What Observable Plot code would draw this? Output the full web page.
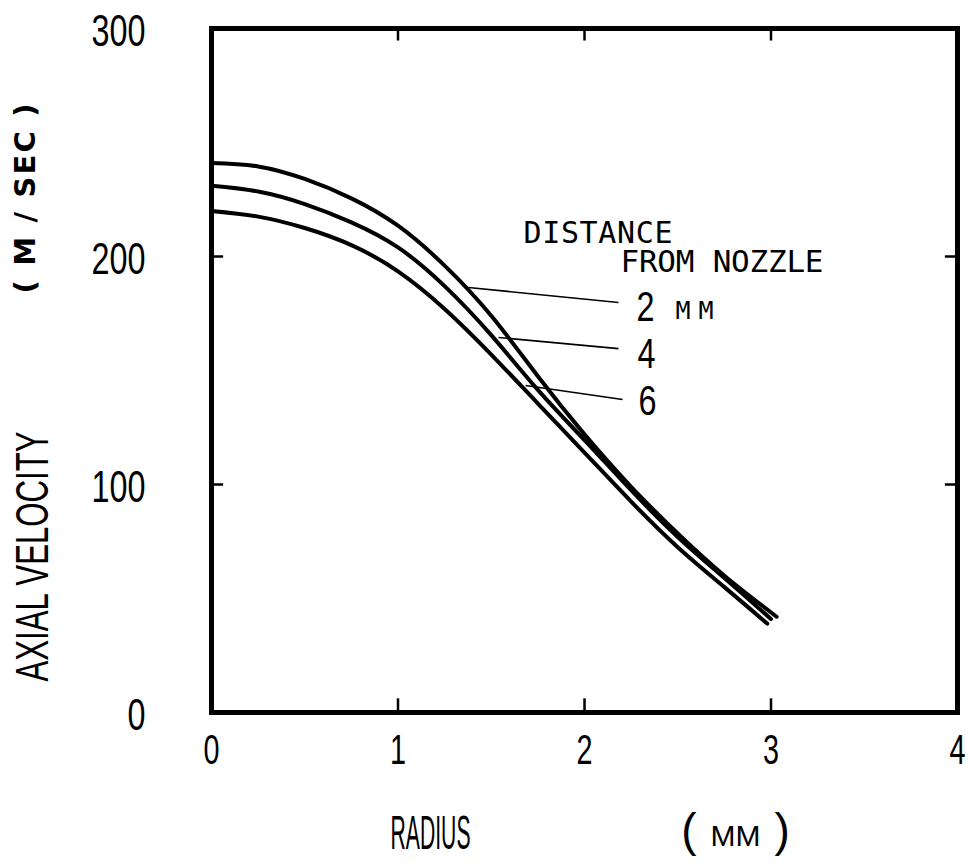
<!DOCTYPE html>
<html><head><meta charset="utf-8">
<script src="https://cdn.jsdelivr.net/npm/d3@7"></script>
<script src="https://cdn.jsdelivr.net/npm/@observablehq/plot@0.6"></script>
<style>body{margin:0;background:#fff} svg{display:block;background:#fff}</style>
</head><body><div id="chart"></div>
<script>
// ---- data ----
const seriesNames = ["2", "4", "6"];
const radius2 = [0, 0.25, 0.5, 0.75, 1, 1.25, 1.5, 1.75, 2, 2.25, 2.5, 2.75, 3.03];
const velocity2 = [241, 239.5, 234, 225.5, 213.5, 196, 174, 147.5, 122, 99, 78.5, 60, 42];
const radius4 = [0, 0.25, 0.5, 0.75, 1, 1.25, 1.5, 1.75, 2, 2.25, 2.5, 2.75, 3.0];
const velocity4 = [231, 228.5, 223, 215, 204, 187, 165.5, 141.5, 119.5, 97.5, 77, 59, 41];
const radius6 = [0, 0.25, 0.5, 0.75, 1, 1.25, 1.5, 1.75, 2, 2.25, 2.5, 2.75, 2.98];
const velocity6 = [220, 217.5, 212.5, 205, 193.5, 177, 157, 135.5, 114, 92.5, 72.5, 55, 39];

const xTicks = [1, 2, 3];
const yTicks = [100, 200];
const xTickLabels = [0, 1, 2, 3, 4];
const yTickLabels = [0, 100, 200, 300];

// legend leader lines (data units)
const leaderR1 = [1.378, 1.539, 1.684];
const leaderV1 = [186.4, 164.5, 143.4];
const leaderR2 = [2.182, 2.182, 2.204];
const leaderV2 = [179.8, 159.6, 137.3];
const labelR = [2.327, 2.332, 2.338];
const labelV = [171.9, 150.9, 130.3];

const legendTitle1 = "DISTANCE";
const legendTitle2 = "FROM NOZZLE";
const unitText = "MM";
const xTitle = "RADIUS";
const xUnit = "( MM )";
const yTitle = "AXIAL VELOCITY";
const yUnit = "( M / SEC )";

// ---- build tables ----
const radii = [radius2, radius4, radius6];
const vels = [velocity2, velocity4, velocity6];
const rows = seriesNames.flatMap((s, i) => radii[i].map((r, j) => ({series: s, r, v: vels[i][j]})));
const leaders = seriesNames.map((s, i) => ({s, x1: leaderR1[i], y1: leaderV1[i], x2: leaderR2[i], y2: leaderV2[i], lx: labelR[i], ly: labelV[i]}));

const cond = "'Liberation Sans Narrow','Liberation Sans',Arial,sans-serif";
const mono = "'DejaVu Sans Mono','Liberation Mono',monospace";

const chart = Plot.plot({
  width: 971,
  height: 867,
  marginLeft: 211,
  marginRight: 14,
  marginTop: 28,
  marginBottom: 155,
  style: {background: "#fff", color: "#000"},
  x: {domain: [0, 4], axis: null},
  y: {domain: [0, 300], axis: null},
  marks: [
    Plot.frame({stroke: "#000", strokeWidth: 5}),
    // inward ticks
    Plot.ruleX(xTicks, {x: d => d, y1: 0, y2: 6, stroke: "#000", strokeWidth: 2.5}),
    Plot.ruleX(xTicks, {x: d => d, y1: 294.5, y2: 300, stroke: "#000", strokeWidth: 2.5}),
    Plot.ruleY(yTicks, {y: d => d, x1: 0, x2: 0.065, stroke: "#000", strokeWidth: 2.5}),
    Plot.ruleY(yTicks, {y: d => d, x1: 3.935, x2: 4, stroke: "#000", strokeWidth: 2.5}),
    // curves
    Plot.line(rows, {x: "r", y: "v", z: "series", curve: "natural", stroke: "#000", strokeWidth: 4, strokeLinecap: "round"}),
    // leader lines
    Plot.link(leaders, {x1: "x1", y1: "y1", x2: "x2", y2: "y2", stroke: "#000", strokeWidth: 1.6}),
    Plot.text(leaders, {x: "lx", y: "ly", text: "s", className: "cond-num", fontFamily: cond, fontSize: 42, lineAnchor: "bottom", textAnchor: "middle", fill: "#000"}),
    Plot.text([unitText], {x: 2.488, y: 172.8, text: d => d, className: "mono-unit", fontFamily: mono, fontSize: 25, lineAnchor: "bottom", textAnchor: "start", fill: "#000"}),
    Plot.text([legendTitle1], {x: 1.673, y: 206.1, text: d => d, className: "mono-t1", fontFamily: mono, fontSize: 30, lineAnchor: "bottom", textAnchor: "start", fill: "#000"}),
    Plot.text([legendTitle2], {x: 2.193, y: 193.4, text: d => d, className: "mono-t2", fontFamily: mono, fontSize: 31, lineAnchor: "bottom", textAnchor: "start", fill: "#000"}),
    // tick labels
    Plot.text(xTickLabels, {x: d => d, frameAnchor: "bottom", dy: 38, text: d => String(d), className: "cond-xnum", fontFamily: cond, fontSize: 43, lineAnchor: "middle", textAnchor: "middle", fill: "#000"}),
    Plot.text(yTickLabels, {y: d => d, frameAnchor: "left", dx: -66, dy: 3, text: d => String(d), className: "cond-num", fontFamily: cond, fontSize: 45, lineAnchor: "middle", textAnchor: "end", fill: "#000"}),
    // axis titles
    Plot.text([xTitle], {frameAnchor: "bottom-left", dx: 219, dy: 121, text: d => d, className: "cond-title", fontFamily: cond, fontSize: 49, lineAnchor: "middle", textAnchor: "middle", fill: "#000"}),
    Plot.text([xUnit], {frameAnchor: "bottom-left", dx: 524, dy: 119, text: d => d, className: "cond-unit", fontFamily: cond, fontSize: 46, lineAnchor: "middle", textAnchor: "middle", fill: "#000"}),
    Plot.text([yTitle], {frameAnchor: "top-left", dx: -179, dy: 528, rotate: -90, text: d => d, className: "cond-ytitle", fontFamily: cond, fontSize: 47, lineAnchor: "middle", textAnchor: "middle", fill: "#000"}),
    Plot.text([yUnit], {frameAnchor: "top-left", dx: -186, dy: 170, rotate: -90, text: d => d, className: "sans-yunit", fontFamily: "'DejaVu Sans',sans-serif", fontWeight: "bold", fontSize: 29, lineAnchor: "middle", textAnchor: "middle", fill: "#000"})
  ]
});

const svg = d3.select(chart);
// condensed typewriter-style digits: squeeze glyphs to the reference widths
svg.selectAll("g.cond-num text").each(function() {
  const n = this.textContent.length;
  d3.select(this).attr("textLength", n * 18).attr("lengthAdjust", "spacingAndGlyphs");
});
svg.selectAll("g.cond-xnum text").attr("textLength", 16).attr("lengthAdjust", "spacingAndGlyphs");
svg.selectAll("g.cond-title text").attr("textLength", 80).attr("lengthAdjust", "spacingAndGlyphs");
svg.selectAll("g.cond-ytitle text").attr("textLength", 250).attr("lengthAdjust", "spacingAndGlyphs");
svg.selectAll("g.sans-yunit text").attr("textLength", 190).attr("lengthAdjust", "spacing");
svg.selectAll("g.mono-t1 text").attr("textLength", 149).attr("lengthAdjust", "spacing");
svg.selectAll("g.mono-t2 text").attr("textLength", 203).attr("lengthAdjust", "spacing");
svg.selectAll("g.mono-unit text").attr("textLength", 38).attr("lengthAdjust", "spacing");
// "( MM )": tall parentheses, smaller letters
svg.selectAll("g.cond-unit text").each(function() {
  const t = d3.select(this);
  const txt = this.textContent;        // "( MM )"
  const inner = txt.slice(1, -1).trim();
  t.text(null);
  t.append("tspan").text(txt[0]);
  t.append("tspan").attr("font-size", 30).attr("dx", 14).text(inner);
  t.append("tspan").attr("dx", 14).text(txt[txt.length - 1]);
});

document.getElementById("chart").appendChild(chart);
</script>
</body></html>
